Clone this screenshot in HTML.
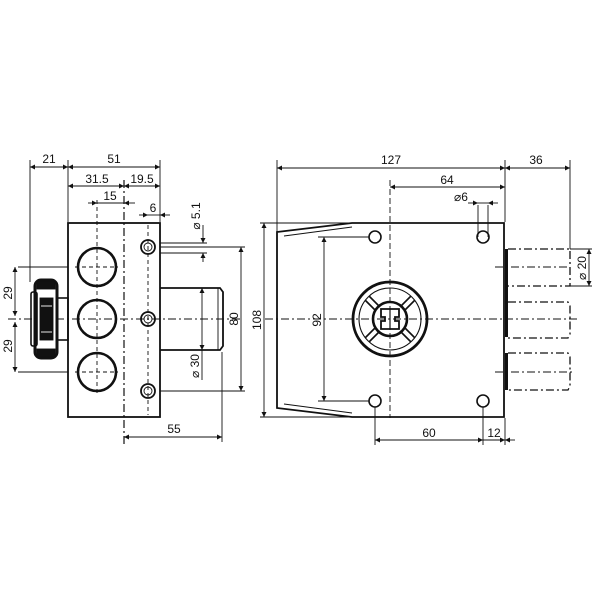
<!DOCTYPE html>
<html><head><meta charset="utf-8"><style>
html,body{margin:0;padding:0;background:#fff}
svg{display:block}
text{font-family:"Liberation Sans",sans-serif;font-size:12px;fill:#111}
</style></head><body>
<svg width="600" height="600" viewBox="0 0 600 600" xmlns="http://www.w3.org/2000/svg">
<defs>
<marker id="a" viewBox="0 0 10 10" refX="10" refY="5" markerWidth="8" markerHeight="5" orient="auto-start-reverse" markerUnits="userSpaceOnUse"><path d="M0,0L10,5L0,10z" fill="#111"/></marker>
</defs>
<g stroke="#111" fill="none" stroke-width="0.9">
<line x1="8" y1="319" x2="240" y2="319" stroke-dasharray="8,3,2,3"/>
<line x1="124" y1="180" x2="124" y2="445" stroke-dasharray="8,3,2,3" stroke-width="1.2"/>
<line x1="97" y1="200" x2="97" y2="395" stroke-dasharray="4,3"/>
<line x1="148" y1="225" x2="148" y2="415" stroke-dasharray="4,3"/>
<line x1="75" y1="267" x2="118" y2="267" stroke-dasharray="4,3"/>
<line x1="75" y1="372" x2="118" y2="372" stroke-dasharray="4,3"/>
<rect x="68" y="223" width="92" height="194" stroke-width="1.8"/>
<circle cx="97" cy="267" r="19" stroke-width="2.6"/>
<circle cx="97" cy="319" r="19" stroke-width="2.6"/>
<circle cx="97" cy="372" r="19" stroke-width="2.6"/>
<circle cx="148" cy="247" r="7" stroke-width="1.8"/><circle cx="148" cy="247" r="4"/>
<circle cx="148" cy="319" r="7" stroke-width="1.8"/><circle cx="148" cy="319" r="4"/>
<circle cx="148" cy="391" r="7" stroke-width="1.8"/><circle cx="148" cy="391" r="4"/>
<path d="M160,288H220L223,292V346L220,350H160" stroke-width="1.8"/>
<line x1="218" y1="288" x2="218" y2="350"/>
<rect x="57" y="298" width="11" height="42" stroke-width="1.6"/>
<rect x="35" y="280" width="22" height="78" rx="6" stroke-width="3"/>
<rect x="37" y="281" width="18" height="8" fill="#111"/>
<rect x="37" y="349" width="18" height="8" fill="#111"/>
<rect x="31" y="292" width="6" height="54" rx="2" stroke-width="1.6"/>
<rect x="40" y="298" width="13" height="42" fill="#111"/>
<line x1="41" y1="306" x2="52" y2="306" stroke="#fff"/>
<line x1="41" y1="332" x2="52" y2="332" stroke="#fff"/>
<line x1="30" y1="160" x2="30" y2="282"/>
<line x1="68" y1="160" x2="68" y2="222"/>
<line x1="160" y1="160" x2="160" y2="222"/>
<line x1="30" y1="167" x2="68" y2="167" marker-start="url(#a)" marker-end="url(#a)"/>
<line x1="68" y1="167" x2="160" y2="167" marker-start="url(#a)" marker-end="url(#a)"/>
<line x1="68" y1="186" x2="124" y2="186" marker-start="url(#a)" marker-end="url(#a)"/>
<line x1="124" y1="186" x2="160" y2="186" marker-start="url(#a)" marker-end="url(#a)"/>
<line x1="88" y1="203" x2="97" y2="203" marker-end="url(#a)"/>
<line x1="97" y1="203" x2="124" y2="203"/>
<line x1="124" y1="203" x2="135" y2="203" marker-start="url(#a)"/>
<line x1="139" y1="215" x2="148" y2="215" marker-end="url(#a)"/>
<line x1="148" y1="215" x2="160" y2="215"/>
<line x1="160" y1="215" x2="170" y2="215" marker-start="url(#a)"/>
<line x1="160" y1="243" x2="207" y2="243"/>
<line x1="160" y1="253" x2="207" y2="253"/>
<line x1="160" y1="247" x2="245" y2="247"/>
<line x1="160" y1="391" x2="245" y2="391"/>
<line x1="203" y1="225" x2="203" y2="243" marker-end="url(#a)"/>
<line x1="203" y1="253" x2="203" y2="262" marker-start="url(#a)"/>
<line x1="241" y1="247" x2="241" y2="391" marker-start="url(#a)" marker-end="url(#a)"/>
<line x1="202" y1="288" x2="202" y2="350" marker-start="url(#a)" marker-end="url(#a)"/>
<line x1="202" y1="350" x2="202" y2="380"/>
<line x1="18" y1="267" x2="68" y2="267"/>
<line x1="18" y1="372" x2="68" y2="372"/>
<line x1="15" y1="267" x2="15" y2="316" marker-start="url(#a)" marker-end="url(#a)"/>
<line x1="15" y1="322" x2="15" y2="372" marker-start="url(#a)" marker-end="url(#a)"/>
<line x1="222" y1="352" x2="222" y2="442"/>
<line x1="124" y1="437" x2="222" y2="437" marker-start="url(#a)" marker-end="url(#a)"/>

<line x1="265" y1="319" x2="580" y2="319" stroke-dasharray="8,3,2,3"/>
<line x1="390" y1="180" x2="390" y2="418" stroke-dasharray="6,3"/>
<path d="M277,232L352,223H504V417H352L277,408Z" stroke-width="1.8"/>
<path d="M284,236L352,227M284,404L352,413" stroke-width="0.9"/>
<circle cx="375" cy="237" r="6" stroke-width="1.6"/>
<circle cx="483" cy="237" r="6" stroke-width="1.6"/>
<circle cx="375" cy="401" r="6" stroke-width="1.6"/>
<circle cx="483" cy="401" r="6" stroke-width="1.6"/>
<circle cx="390" cy="319" r="37" stroke-width="2.8"/>
<circle cx="390" cy="319" r="31" stroke-width="1.1"/>
<circle cx="390" cy="319" r="17" stroke-width="2.6"/>
<g stroke-width="1.6">
<path d="M400,307L411,296M404,311L415,300M400,331L411,342M404,327L415,338M380,307L369,296M376,311L365,300M380,331L369,342M376,327L365,338"/>
</g>
<path d="M381,309H399V317H395V321H399V329H381V321H385V317H381Z" stroke-width="1.8"/>
<line x1="390" y1="309" x2="390" y2="329" stroke-width="1.2"/>
<rect x="505" y="249" width="3" height="88" fill="#111" stroke="none"/>
<rect x="505" y="353" width="3" height="37" fill="#111" stroke="none"/>
<g stroke-dasharray="8,3,2,3" stroke-width="1.3">
<path d="M508,249H570V286H508"/>
<path d="M508,302H568L570,306V334L568,338H508"/>
<path d="M508,353H568L570,357V386L568,390H508"/>
<line x1="495" y1="267" x2="570" y2="267" stroke-width="0.9"/>
<line x1="495" y1="372" x2="572" y2="372" stroke-width="0.9"/>
</g>
<line x1="277" y1="160" x2="277" y2="232"/>
<line x1="505" y1="160" x2="505" y2="222"/>
<line x1="570" y1="160" x2="570" y2="249"/>
<line x1="277" y1="168" x2="505" y2="168" marker-start="url(#a)" marker-end="url(#a)"/>
<line x1="505" y1="168" x2="570" y2="168" marker-start="url(#a)" marker-end="url(#a)"/>
<line x1="390" y1="187" x2="505" y2="187" marker-start="url(#a)" marker-end="url(#a)"/>
<line x1="478" y1="205" x2="478" y2="237"/>
<line x1="488" y1="205" x2="488" y2="237"/>
<line x1="468" y1="203" x2="478" y2="203" marker-end="url(#a)"/>
<line x1="478" y1="203" x2="488" y2="203"/>
<line x1="488" y1="203" x2="498" y2="203" marker-start="url(#a)"/>
<line x1="260" y1="223" x2="352" y2="223"/>
<line x1="260" y1="417" x2="352" y2="417"/>
<line x1="264" y1="223" x2="264" y2="417" marker-start="url(#a)" marker-end="url(#a)"/>
<line x1="318" y1="237" x2="369" y2="237"/>
<line x1="318" y1="401" x2="369" y2="401"/>
<line x1="324" y1="237" x2="324" y2="401" marker-start="url(#a)" marker-end="url(#a)"/>
<line x1="375" y1="407" x2="375" y2="445"/>
<line x1="483" y1="407" x2="483" y2="445"/>
<line x1="375" y1="440" x2="483" y2="440" marker-start="url(#a)" marker-end="url(#a)"/>
<line x1="483" y1="440" x2="505" y2="440" marker-end="url(#a)"/>
<line x1="505" y1="418" x2="505" y2="445"/>
<line x1="505" y1="440" x2="515" y2="440" marker-start="url(#a)"/>
<line x1="570" y1="249" x2="592" y2="249"/>
<line x1="570" y1="286" x2="592" y2="286"/>
<line x1="589" y1="249" x2="589" y2="286" marker-start="url(#a)" marker-end="url(#a)"/>
</g>
<g>
<text x="49" y="163" text-anchor="middle">21</text>
<text x="114" y="163" text-anchor="middle">51</text>
<text x="97" y="183" text-anchor="middle">31.5</text>
<text x="142" y="183" text-anchor="middle">19.5</text>
<text x="110" y="200" text-anchor="middle">15</text>
<text x="153" y="212" text-anchor="middle">6</text>
<text x="174" y="433" text-anchor="middle">55</text>
<text transform="translate(12,293) rotate(-90)" text-anchor="middle">29</text>
<text transform="translate(12,346) rotate(-90)" text-anchor="middle">29</text>
<text transform="translate(200,216) rotate(-90)" text-anchor="middle">⌀ 5.1</text>
<text transform="translate(199,366) rotate(-90)" text-anchor="middle">⌀ 30</text>
<text transform="translate(238,319) rotate(-90)" text-anchor="middle">80</text>
<text transform="translate(261,320) rotate(-90)" text-anchor="middle">108</text>
<text transform="translate(321,320) rotate(-90)" text-anchor="middle">92</text>
<text transform="translate(586,268) rotate(-90)" text-anchor="middle">⌀ 20</text>
<text x="391" y="164" text-anchor="middle">127</text>
<text x="536" y="164" text-anchor="middle">36</text>
<text x="447" y="184" text-anchor="middle">64</text>
<text x="461" y="201" text-anchor="middle">⌀6</text>
<text x="429" y="437" text-anchor="middle">60</text>
<text x="494" y="437" text-anchor="middle">12</text>
</g>
</svg>
</body></html>
